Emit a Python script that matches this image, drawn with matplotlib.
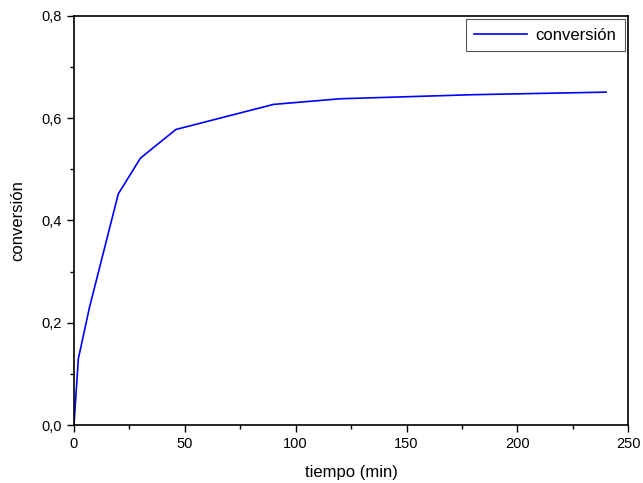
import matplotlib
matplotlib.use("Agg")
from matplotlib import pyplot as plt
from matplotlib.ticker import MultipleLocator, FuncFormatter

plt.rcParams['font.family'] = ['Liberation Sans', 'DejaVu Sans']

tiempo = [0, 2, 7, 20, 30, 46, 90, 120, 180, 240]
conversion = [0.0, 0.13, 0.23, 0.452, 0.522, 0.578, 0.627, 0.638, 0.646, 0.651]

fig = plt.figure(figsize=(6.43, 4.83), dpi=100)
ax = fig.add_axes([0.115, 0.12, 0.862, 0.847])

ax.plot(tiempo, conversion, color='#0000ff', lw=1.2, label='conversión')

ax.set_xlim(0, 250)
ax.set_ylim(0, 0.8)
ax.xaxis.set_major_locator(MultipleLocator(50))
ax.xaxis.set_minor_locator(MultipleLocator(25))
ax.yaxis.set_major_locator(MultipleLocator(0.2))
ax.yaxis.set_minor_locator(MultipleLocator(0.1))
ax.yaxis.set_major_formatter(FuncFormatter(lambda v, p: f"{v:.1f}".replace('.', ',')))
ax.tick_params(which='major', direction='out', length=5, width=1, labelsize=10.5)
ax.tick_params(which='minor', direction='out', length=3, width=1)
for s in ax.spines.values():
    s.set_linewidth(1.2)

ax.set_xlabel('tiempo (min)', fontsize=12, labelpad=10)
ax.set_ylabel('conversión', fontsize=12, labelpad=12)

leg = ax.legend(loc='upper right', fontsize=12, fancybox=False, framealpha=1,
                edgecolor='#555555', borderaxespad=0.2, handlelength=3.2,
                borderpad=0.5, handletextpad=0.5)
leg.get_frame().set_linewidth(0.8)

fig.savefig('out.png', dpi=100)
